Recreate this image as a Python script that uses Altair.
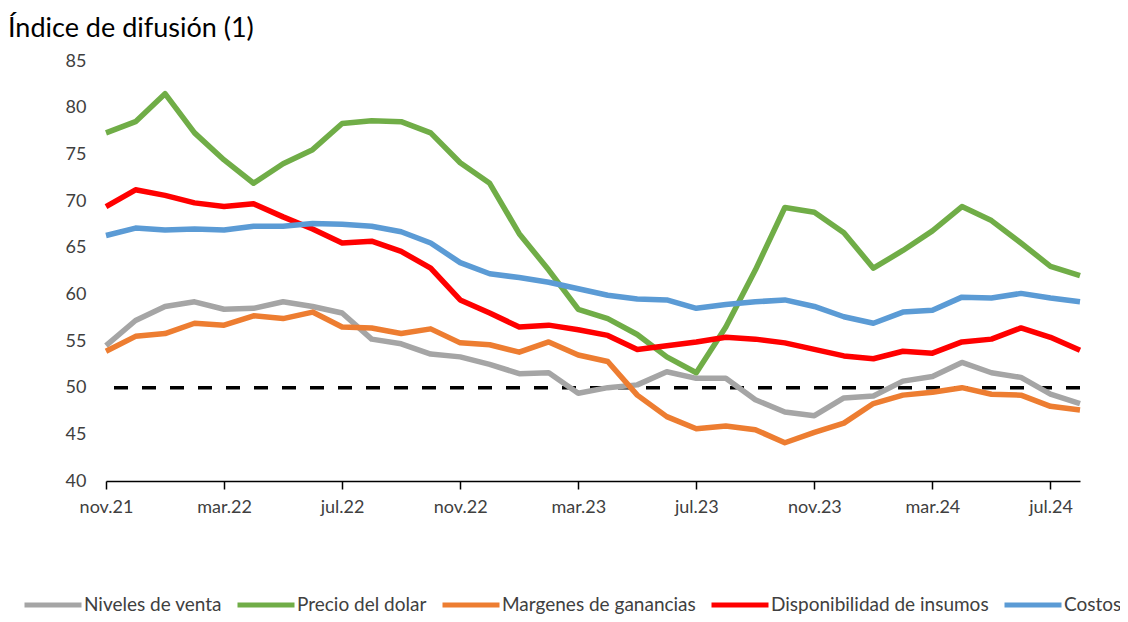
import altair as alt
import pandas as pd

months = ["nov.21", "dic.21", "ene.22", "feb.22", "mar.22", "abr.22", "may.22", "jun.22",
          "jul.22", "ago.22", "sep.22", "oct.22", "nov.22", "dic.22", "ene.23", "feb.23",
          "mar.23", "abr.23", "may.23", "jun.23", "jul.23", "ago.23", "sep.23", "oct.23",
          "nov.23", "dic.23", "ene.24", "feb.24", "mar.24", "abr.24", "may.24", "jun.24",
          "jul.24", "ago.24"]
tick_labels = ["nov.21", "mar.22", "jul.22", "nov.22", "mar.23", "jul.23", "nov.23", "mar.24", "jul.24"]

niveles_venta = [54.5, 57.2, 58.7, 59.2, 58.4, 58.5, 59.2, 58.7, 58.0, 55.2, 54.7, 53.6,
                 53.3, 52.5, 51.5, 51.6, 49.4, 50.0, 50.3, 51.7, 51.0, 51.0, 48.7, 47.4,
                 47.0, 48.9, 49.1, 50.7, 51.2, 52.7, 51.6, 51.1, 49.3, 48.3]
precio_dolar = [77.3, 78.5, 81.5, 77.3, 74.4, 71.9, 74.0, 75.5, 78.3, 78.6, 78.5, 77.3,
                74.1, 71.9, 66.5, 62.6, 58.4, 57.4, 55.7, 53.3, 51.6, 56.5, 62.6, 69.3,
                68.8, 66.6, 62.8, 64.7, 66.8, 69.4, 67.9, 65.5, 63.0, 62.0]
margenes = [53.9, 55.5, 55.8, 56.9, 56.7, 57.7, 57.4, 58.1, 56.5, 56.4, 55.8, 56.3,
            54.8, 54.6, 53.8, 54.9, 53.5, 52.8, 49.2, 46.9, 45.6, 45.9, 45.5, 44.1,
            45.2, 46.2, 48.3, 49.2, 49.5, 50.0, 49.3, 49.2, 48.0, 47.6]
disponibilidad = [69.4, 71.2, 70.6, 69.8, 69.4, 69.7, 68.3, 67.0, 65.5, 65.7, 64.6, 62.8,
                  59.4, 58.0, 56.5, 56.7, 56.2, 55.6, 54.1, 54.5, 54.9, 55.4, 55.2, 54.8,
                  54.1, 53.4, 53.1, 53.9, 53.7, 54.9, 55.2, 56.4, 55.4, 54.0]
costos = [66.3, 67.1, 66.9, 67.0, 66.9, 67.3, 67.3, 67.6, 67.5, 67.3, 66.7, 65.5,
          63.4, 62.2, 61.8, 61.3, 60.6, 59.9, 59.5, 59.4, 58.5, 58.9, 59.2, 59.4,
          58.7, 57.6, 56.9, 58.1, 58.3, 59.7, 59.6, 60.1, 59.6, 59.2]

series_names = ["Niveles de venta", "Precio del dolar", "Margenes de ganancias",
                "Disponibilidad de insumos", "Costos"]
series_colors = ["#A5A5A5", "#70AD47", "#ED7D31", "#FF0000", "#5B9BD5"]
series_values = [niveles_venta, precio_dolar, margenes, disponibilidad, costos]
y_ticks = [40, 45, 50, 55, 60, 65, 70, 75, 80, 85]
threshold = [50]

rows = []
for name, vals in zip(series_names, series_values):
    for m, v in zip(months, vals):
        rows.append({"mes": m, "serie": name, "valor": v})
df = pd.DataFrame(rows)

FONT = "Lato"
TXT = "#404040"

x_enc = alt.X("mes:N", sort=months,
              scale=alt.Scale(type="point", padding=0, domain=months),
              axis=alt.Axis(values=tick_labels, title=None, labelAngle=0,
                            labelFont=FONT, labelFontSize=18, labelColor=TXT,
                            domainColor="#000000", domainWidth=1.5,
                            tickColor="#000000", tickWidth=1.5, tickSize=8,
                            labelPadding=9, grid=False))
y_enc = alt.Y("valor:Q",
              scale=alt.Scale(domain=[40, 85], nice=False, zero=False),
              axis=alt.Axis(values=y_ticks, title=None, domain=False, ticks=False,
                            grid=False, labelFont=FONT, labelFontSize=18,
                            labelColor=TXT, labelPadding=20))

lines = alt.Chart(df).mark_line(strokeWidth=5.5, strokeJoin="round").encode(
    x=x_enc,
    y=y_enc,
    color=alt.Color("serie:N", sort=series_names,
                    scale=alt.Scale(domain=series_names, range=series_colors),
                    legend=alt.Legend(title=None, orient="none", direction="horizontal",
                                      legendX=-84, legendY=513, columns=5,
                                      symbolType="stroke", symbolSize=3249,
                                      symbolStrokeWidth=5, labelFont=FONT,
                                      labelFontSize=19, labelColor=TXT, labelLimit=0,
                                      labelOffset=0, columnPadding=5, padding=0)),
    order=alt.Order("serie:N")
)

ref = alt.Chart(pd.DataFrame({"y": threshold})).mark_rule(
    color="#000000", strokeWidth=3.5, strokeDash=[14, 14]
).encode(y=alt.Y("y:Q"))

chart = alt.layer(ref, lines).properties(
    width=974, height=420,
    background="#ffffff",
    padding={"left": 98, "top": 53, "right": 40, "bottom": 133},
    autosize=alt.AutoSizeParams(type="none"),
    title=alt.TitleParams("Índice de difusión (1)", anchor="start", frame="group",
                          dx=-98, font=FONT, fontSize=27, fontWeight="normal",
                          color="#000000", offset=9),
).configure_view(strokeWidth=0, stroke="transparent")

chart.save("out.html", embed_options={"renderer": "svg", "actions": False})
